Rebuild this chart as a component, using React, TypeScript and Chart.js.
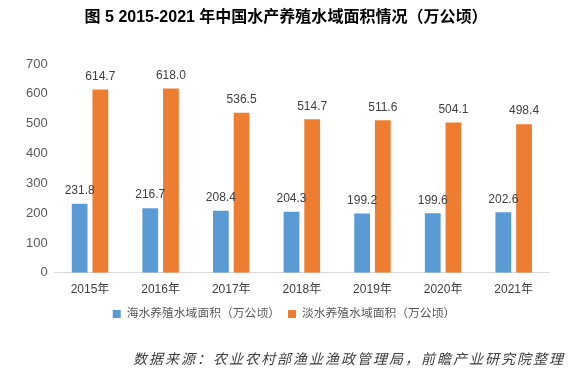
import React, { useEffect, useRef } from "react";
import { Chart, registerables } from "chart.js";

Chart.register(...registerables);

const categories = ["2015年", "2016年", "2017年", "2018年", "2019年", "2020年", "2021年"];
const seaValues = [231.8, 216.7, 208.4, 204.3, 199.2, 199.6, 202.6];
const freshValues = [614.7, 618.0, 536.5, 514.7, 511.6, 504.1, 498.4];
const seriesNames = ["海水养殖水域面积（万公顷）", "淡水养殖水域面积（万公顷）"];
const titleText = "图 5 2015-2021 年中国水产养殖水域面积情况（万公顷）";
const sourceText = "数据来源：农业农村部渔业渔政管理局，前瞻产业研究院整理";
const yTicks = [0, 100, 200, 300, 400, 500, 600, 700];

const FONT = "'Liberation Sans', Arial, 'Noto Sans CJK SC', sans-serif";

const extrasPlugin = {
  id: "extras",
  afterDatasetsDraw(chart: any) {
    const ctx = chart.ctx;
    ctx.save();
    ctx.font = `12px ${FONT}`;
    ctx.fillStyle = "#404040";
    ctx.textAlign = "center";
    ctx.textBaseline = "bottom";
    chart.data.datasets.forEach((ds: any, i: number) => {
      const meta = chart.getDatasetMeta(i);
      meta.data.forEach((el: any, j: number) => {
        ctx.fillText(Number(ds.data[j]).toFixed(1), el.x, el.y - 7);
      });
    });
    ctx.restore();
  },
  afterDraw(chart: any) {
    const ctx = chart.ctx;
    ctx.save();
    ctx.font = `bold 16px ${FONT}`;
    ctx.fillStyle = "#000000";
    ctx.textAlign = "center";
    ctx.textBaseline = "middle";
    ctx.fillText(titleText, 286, 18);
    ctx.font = `italic 14px ${FONT}`;
    ctx.fillStyle = "#404040";
    ctx.textAlign = "left";
    (ctx as any).letterSpacing = "2px";
    ctx.fillText(sourceText, 133, 360);
    ctx.restore();
  },
};

export default function App() {
  const ref = useRef<HTMLCanvasElement | null>(null);
  useEffect(() => {
    if (!ref.current) return;
    const chart = new Chart(ref.current, {
      type: "bar",
      data: {
        labels: categories,
        datasets: [
          {
            label: seriesNames[0],
            data: seaValues,
            backgroundColor: "#5B9BD5",
            categoryPercentage: 0.586,
            barPercentage: 0.762,
          },
          {
            label: seriesNames[1],
            data: freshValues,
            backgroundColor: "#ED7D31",
            categoryPercentage: 0.586,
            barPercentage: 0.762,
          },
        ],
      },
      options: {
        responsive: false,
        animation: false,
        layout: { padding: { top: 64, left: 19, right: 29, bottom: 51 } },
        plugins: {
          title: { display: false },
          tooltip: { enabled: false },
          legend: {
            position: "bottom",
            labels: {
              boxWidth: 8,
              boxHeight: 8,
              padding: 8,
              color: "#595959",
              font: { size: 11.8, family: FONT },
            },
          },
        },
        scales: {
          x: {
            grid: { display: true, drawOnChartArea: false, drawTicks: false },
            border: { display: true, color: "#d9d9d9", width: 1 },
            ticks: { color: "#404040", font: { size: 12, family: FONT }, padding: 10 },
            afterFit: (axis: any) => {
              axis.height -= 7;
            },
          },
          y: {
            min: 0,
            max: 700,
            afterBuildTicks: (axis: any) => {
              axis.ticks = yTicks.map((v) => ({ value: v }));
            },
            grid: { display: false, drawTicks: false },
            border: { display: false },
            ticks: { color: "#595959", font: { size: 13, family: FONT }, padding: 7 },
          },
        },
      },
      plugins: [extrasPlugin],
    });
    return () => chart.destroy();
  }, []);
  return (
    <div style={{ position: "fixed", left: 0, top: 0, width: 578, height: 381, background: "#fff" }}>
      <canvas ref={ref} width={578} height={381} />
    </div>
  );
}
